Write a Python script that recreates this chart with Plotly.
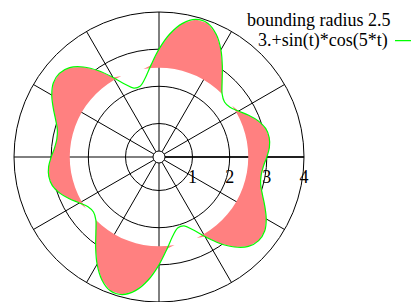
import plotly.graph_objects as go

# Angles (degrees) at which the curve was read
theta_deg = [0, 5, 10, 15, 20, 25, 30, 35, 40, 45, 50, 55, 60, 65, 70, 75, 80, 85,
             90, 95, 100, 105, 110, 115, 120, 125, 130, 135, 140, 145, 150, 155, 160, 165, 170, 175,
             180, 185, 190, 195, 200, 205, 210, 215, 220, 225, 230, 235, 240, 245, 250, 255, 260, 265,
             270, 275, 280, 285, 290, 295, 300, 305, 310, 315, 320, 325, 330, 335, 340, 345, 350, 355]

# Radius of "3.+sin(t)*cos(5*t)" read at those angles
r_curve = [3.00, 3.08, 3.11, 3.07, 2.94, 2.76, 2.57, 2.43, 2.40, 2.50, 2.74, 3.07, 3.43, 3.74, 3.93, 3.93, 3.75, 3.42,
           3.00, 2.58, 2.25, 2.07, 2.07, 2.26, 2.57, 2.93, 3.26, 3.50, 3.60, 3.57, 3.43, 3.24, 3.06, 2.93, 2.89, 2.92,
           3.00, 3.08, 3.11, 3.07, 2.94, 2.76, 2.57, 2.43, 2.40, 2.50, 2.74, 3.07, 3.43, 3.74, 3.93, 3.93, 3.75, 3.42,
           3.00, 2.58, 2.25, 2.07, 2.07, 2.26, 2.57, 2.93, 3.26, 3.50, 3.60, 3.57, 3.43, 3.24, 3.06, 2.93, 2.89, 2.92]

bound_r = 2.5
r_ticks = [1, 2, 3, 4]
r_tick_text = ["1", "2", "3", "4"]
legend_fill = "bounding radius 2.5"
legend_curve = "3.+sin(t)*cos(5*t)"

FONT = "Liberation Serif, Times New Roman, serif"

# closed curve
th_c = theta_deg + [theta_deg[0] + 360]
r_c = r_curve + [r_curve[0]]
outer = [max(r, bound_r) for r in r_c]

fill_theta = th_c + th_c[::-1]
fill_r = outer + [bound_r] * len(th_c)

fig = go.Figure()
fig.add_trace(go.Scatterpolar(
    theta=fill_theta, r=fill_r, mode="lines", fill="toself",
    fillcolor="rgb(255,128,128)", line=dict(width=0, color="rgba(0,0,0,0)"),
    name=legend_fill, hoverinfo="skip"))
fig.add_trace(go.Scatterpolar(
    theta=th_c, r=r_c, mode="lines",
    line=dict(color="#00ff00", width=1.2, shape="spline"),
    name=legend_curve))

W, H = 411, 302
cx, cy, R = 159, 157, 145
fig.update_layout(
    width=W, height=H,
    margin=dict(l=0, r=0, t=0, b=0),
    paper_bgcolor="white", plot_bgcolor="white",
    showlegend=False,
    font=dict(family=FONT, size=18, color="black"),
    polar=dict(
        domain=dict(x=[(cx - R) / W, (cx + R) / W], y=[(H - cy - R) / H, (H - cy + R) / H]),
        bgcolor="white",
        hole=6 / R,
        radialaxis=dict(
            range=[0.26, 4], tickvals=r_ticks, ticktext=r_tick_text,
            angle=0, side="clockwise", tickangle=0,
            showline=True, linecolor="black", linewidth=1.6,
            showgrid=True, gridcolor="black", gridwidth=1,
            ticks="outside", ticklen=4, tickcolor="rgba(0,0,0,0)",
            tickfont=dict(family=FONT, size=18, color="black"),
            layer="below traces"),
        angularaxis=dict(
            tickmode="linear", tick0=0, dtick=30,
            direction="counterclockwise", rotation=0,
            showticklabels=False, ticks="",
            showline=True, linecolor="black", linewidth=1,
            showgrid=True, gridcolor="black", gridwidth=1,
            layer="below traces"),
    ),
    annotations=[
        dict(x=393 / W, y=1 - 20 / H, xref="paper", yref="paper", text=legend_fill,
             showarrow=False, xanchor="right", yanchor="middle",
             font=dict(family=FONT, size=18, color="black")),
        dict(x=390 / W, y=1 - 40 / H, xref="paper", yref="paper", text=legend_curve,
             showarrow=False, xanchor="right", yanchor="middle",
             font=dict(family=FONT, size=18, color="black")),
    ],
    shapes=[dict(type="line", xref="paper", yref="paper",
                 x0=395 / W, x1=1.05, y0=1 - 40.7 / H, y1=1 - 40.7 / H,
                 line=dict(color="#00ff00", width=1.2))],
)

fig.write_html("out.html",
               config={"displayModeBar": False},
               post_script="document.body.style.margin='0';document.body.style.overflow='hidden';")
